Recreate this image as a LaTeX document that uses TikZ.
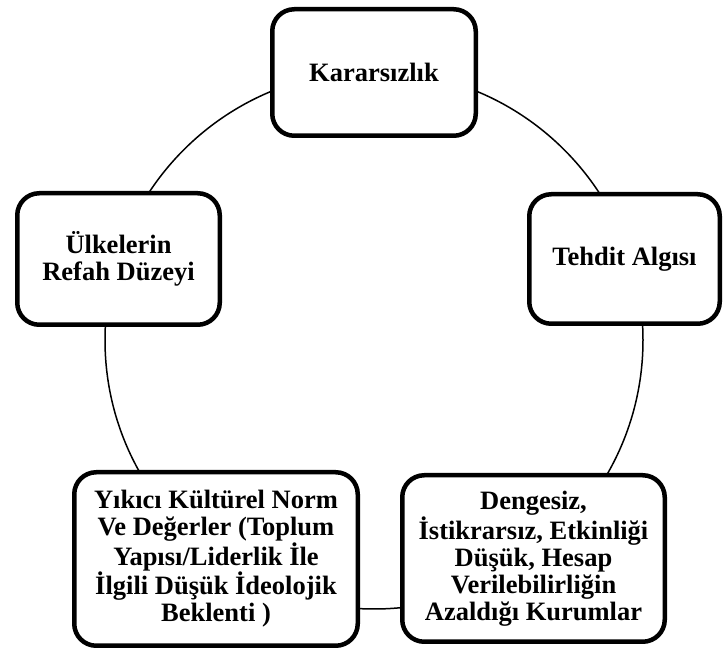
\documentclass[tikz,border=0pt]{standalone}
\usepackage{fontspec}
\setmainfont{Liberation Serif}
\tikzset{
  etken/.style={draw, line width=4.5pt, rounded corners=22pt, fill=white, align=center,
    inner sep=0pt, font=\bfseries\fontsize{26.5}{27}\selectfont},
  halka/.style={line width=1.5pt},
}
\begin{document}
\begin{tikzpicture}[x=1pt,y=1pt]
        \useasboundingbox (0,0) rectangle (724,651);
        \coordinate (merkez) at (374,311);
        \draw [halka] (merkez) circle (269pt);
        \node[etken, minimum width=203.5pt, minimum height=126.5pt] (kararsizlik) at (374,578.5) {Kararsızlık};
        \node[etken, minimum width=190.5pt, minimum height=129.5pt] (tehdit) at (624.5,392) {Tehdit Algısı};
        \node[etken, minimum width=202.5pt, minimum height=131.5pt] (refah) at (118.5,392) {Ülkelerin\\Refah Düzeyi};
        \node[etken, minimum width=283.5pt, minimum height=173.5pt] (kultur) at (216,92) {Yıkıcı Kültürel Norm\\Ve Değerler (Toplum\\Yapısı/Liderlik İle\\İlgili Düşük İdeolojik\\Beklenti )};
        \node[etken, minimum width=262.5pt, minimum height=166.5pt] (kurum) at (533.5,92.5) {Dengesiz,\\İstikrarsız, Etkinliği\\Düşük, Hesap\\Verilebilirliğin\\Azaldığı Kurumlar};
     \end{tikzpicture}
\end{document}
